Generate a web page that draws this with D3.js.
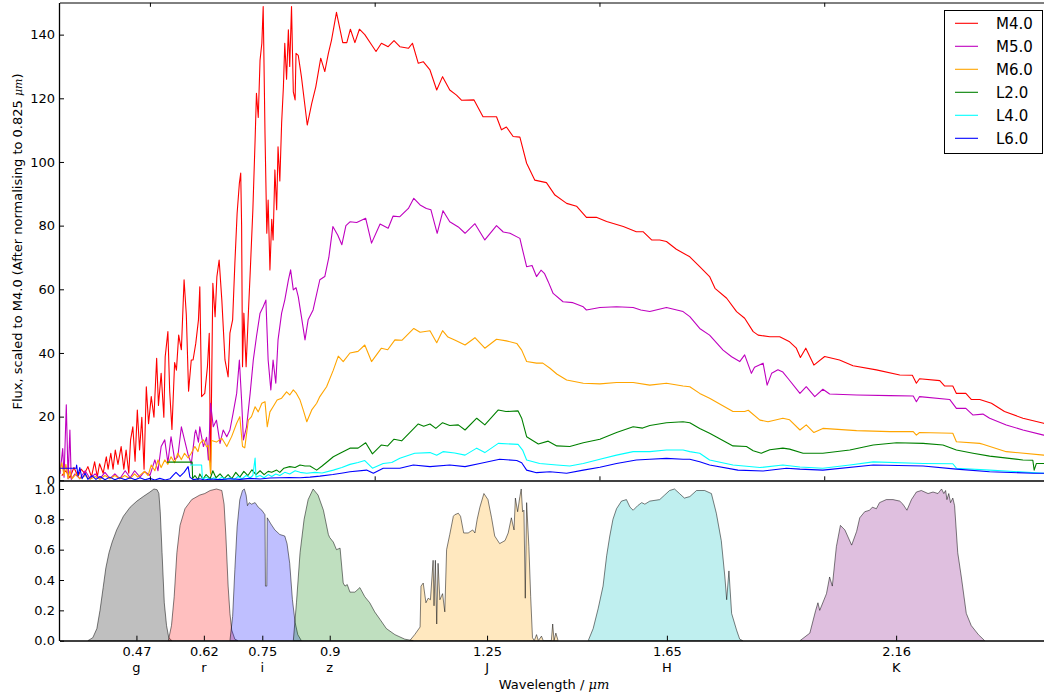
<!DOCTYPE html>
<html><head><meta charset="utf-8">
<script src="https://cdn.jsdelivr.net/npm/d3@7"></script>
<style>body{margin:0;background:#fff} text{font-family:"DejaVu Sans",sans-serif;fill:#000}</style>
</head><body><svg id="c" width="1044" height="698"></svg>
<script>
// ---------------- DATA ----------------
const seriesNames = ["M4.0","M5.0","M6.0","L2.0","L4.0","L6.0"];
const seriesColors = ["red","#bf00bf","orange","green","cyan","blue"];

const specM40 = [[0.304,1.5],[0.313,3],[0.322,0.8],[0.331,4],[0.340,1.2],[0.347,3.5],[0.355,2.2],[0.362,4.3],[0.370,1.1],[0.377,5.8],[0.383,1.1],[0.388,5.2],[0.396,2.2],[0.403,7.4],[0.407,3.5],[0.413,8.5],[0.418,3.5],[0.423,9.5],[0.429,5],[0.436,10.6],[0.442,3.5],[0.447,9.5],[0.453,2.2],[0.457,12.7],[0.462,16.8],[0.467,6],[0.472,22.1],[0.477,9.5],[0.482,19.8],[0.487,3.5],[0.492,29.4],[0.497,17.8],[0.503,26.3],[0.509,19.8],[0.515,38.3],[0.519,23.5],[0.525,33.6],[0.531,19.8],[0.534,38.8],[0.540,46.7],[0.544,28],[0.549,16],[0.555,37],[0.559,34.6],[0.564,45.6],[0.570,41],[0.576,63],[0.581,52],[0.586,28],[0.592,37.8],[0.596,37.8],[0.602,43],[0.608,50.4],[0.611,60.8],[0.615,26.3],[0.622,27.3],[0.628,35.7],[0.632,46.2],[0.635,2.2],[0.640,61.9],[0.645,51.4],[0.649,64],[0.654,69.2],[0.660,56.6],[0.667,37.8],[0.674,32.5],[0.678,46.2],[0.684,50.4],[0.689,68.2],[0.694,83.9],[0.699,93.3],[0.702,96.5],[0.704,80],[0.706,35.7],[0.709,52.5],[0.714,35.7],[0.719,52.5],[0.723,65],[0.729,84.9],[0.734,106.9],[0.737,121.6],[0.741,114],[0.745,132],[0.749,137.3],[0.752,148.8],[0.756,109],[0.760,77.6],[0.763,88],[0.767,66.1],[0.771,82],[0.774,75.5],[0.778,97.5],[0.782,85],[0.785,104.8],[0.789,94],[0.793,112.2],[0.797,123.7],[0.800,137.3],[0.804,126],[0.808,141.5],[0.811,130],[0.815,148.8],[0.819,122],[0.823,119.5],[0.825,134.1],[0.830,133.5],[0.837,126.8],[0.850,111.6],[0.860,118.4],[0.869,123.6],[0.880,132.6],[0.889,128.4],[0.897,134.1],[0.904,138.3],[0.915,147],[0.929,137.5],[0.938,137.5],[0.946,141.7],[0.956,137.5],[0.966,141.7],[0.978,140],[0.993,136.8],[1.003,134.7],[1.015,137.3],[1.030,136.2],[1.043,138.1],[1.056,136.2],[1.075,135.7],[1.084,137.3],[1.097,131],[1.108,131.5],[1.123,128.9],[1.138,122.6],[1.151,126.8],[1.167,122.6],[1.182,121],[1.193,119.4],[1.221,119.5],[1.241,114.2],[1.271,114.2],[1.282,110.1],[1.293,111],[1.308,108],[1.323,107.8],[1.338,99.6],[1.356,94.3],[1.382,93.5],[1.401,89.6],[1.427,87],[1.449,86.1],[1.471,82.6],[1.493,82.6],[1.516,81.3],[1.553,79.7],[1.582,78.1],[1.597,78.1],[1.616,75.5],[1.634,75.5],[1.649,75],[1.671,72.6],[1.701,70.2],[1.723,67.1],[1.745,64],[1.757,60.3],[1.783,57.2],[1.805,53],[1.823,50.9],[1.842,46.7],[1.853,45.6],[1.879,45.1],[1.901,45.1],[1.923,43.5],[1.938,41.5],[1.947,38.6],[1.959,41.5],[1.977,36.2],[2.001,38.9],[2.034,37.8],[2.064,36],[2.116,34.7],[2.168,33.1],[2.196,33],[2.205,30.5],[2.212,31.9],[2.257,31.3],[2.268,29.6],[2.286,29.6],[2.294,27.3],[2.315,27.3],[2.327,25.4],[2.346,25.4],[2.372,24.2],[2.401,21.6],[2.442,19.5],[2.488,17.9],[2.500,17.5]];

const specM50 = [[0.300,2],[0.306,10],[0.309,1],[0.314,23.7],[0.318,0.5],[0.322,15.8],[0.325,0.3],[0.333,2],[0.344,0.5],[0.356,3],[0.367,0.5],[0.378,2],[0.389,0.5],[0.400,2.5],[0.411,0.5],[0.422,2],[0.433,0.5],[0.445,3],[0.456,0.8],[0.466,3],[0.478,1],[0.488,2.8],[0.500,1.5],[0.511,6.4],[0.518,3],[0.525,10.6],[0.533,12.7],[0.540,5.5],[0.547,13.7],[0.555,6.5],[0.562,7.4],[0.570,16.8],[0.577,12.7],[0.585,8],[0.589,6.4],[0.592,5],[0.600,14.8],[0.602,15.8],[0.608,12],[0.611,16.8],[0.619,10.6],[0.626,13.5],[0.630,6.4],[0.635,24.2],[0.641,16.8],[0.648,18.9],[0.656,11.6],[0.663,15.8],[0.671,13.7],[0.678,15.8],[0.685,21],[0.693,27.3],[0.699,37.8],[0.704,25],[0.708,12.7],[0.715,16.8],[0.723,27.3],[0.730,37.8],[0.737,45.1],[0.745,52.5],[0.752,54.5],[0.758,56.6],[0.763,37.8],[0.769,28.4],[0.774,37.8],[0.780,30.5],[0.785,44.1],[0.793,52.5],[0.800,56.6],[0.808,62.9],[0.813,66.1],[0.819,59.8],[0.825,60.5],[0.830,57.7],[0.837,51.4],[0.845,44.1],[0.852,50.4],[0.863,53.5],[0.878,63],[0.889,64],[0.898,70],[0.907,79.7],[0.918,77],[0.927,74],[0.936,80],[0.945,81.2],[0.960,81],[0.980,82.3],[0.993,74.5],[1.012,80.5],[1.030,79.2],[1.041,83],[1.056,82.8],[1.075,85.4],[1.087,88.6],[1.101,86.5],[1.115,85.4],[1.125,85],[1.139,77.6],[1.152,84.7],[1.167,81.2],[1.186,79.6],[1.201,77.6],[1.223,80.6],[1.245,75.5],[1.271,80],[1.286,78],[1.301,77.6],[1.323,76],[1.329,72.4],[1.338,67.1],[1.350,67.5],[1.360,64],[1.370,66],[1.378,64.9],[1.386,62.4],[1.397,58.7],[1.419,56.1],[1.441,55.8],[1.464,54.5],[1.471,53.5],[1.501,54.3],[1.538,54.5],[1.575,54.3],[1.592,53.5],[1.612,53],[1.649,54.3],[1.686,53],[1.701,51.4],[1.723,47.7],[1.745,45.6],[1.775,40.9],[1.794,38.8],[1.812,37.3],[1.823,39.4],[1.838,33.6],[1.845,35.5],[1.864,36.8],[1.873,29.9],[1.883,33.6],[1.897,34.7],[1.908,34],[1.920,31.9],[1.946,27.3],[1.960,29.4],[1.979,26.3],[1.997,28.6],[2.012,27.1],[2.072,26.8],[2.146,26.6],[2.198,26.5],[2.205,24.7],[2.212,26.3],[2.279,25.4],[2.294,22.6],[2.315,22.6],[2.331,20.5],[2.353,20.8],[2.368,19.5],[2.405,17.4],[2.442,15.8],[2.488,14.2],[2.500,13.9]];

const specM60 = [[0.300,3],[0.304,5.5],[0.309,1.5],[0.313,5],[0.318,0.5],[0.322,3],[0.327,0.5],[0.336,2],[0.344,0.5],[0.356,1.5],[0.367,0.3],[0.378,1.2],[0.389,0.3],[0.400,1.5],[0.411,0.5],[0.422,1.5],[0.433,0.5],[0.444,1.5],[0.456,0.5],[0.466,2],[0.473,1],[0.488,2.8],[0.496,1.5],[0.503,4.8],[0.511,3],[0.518,6.4],[0.525,4],[0.533,6.4],[0.540,5],[0.547,7.4],[0.555,5.5],[0.562,8.5],[0.570,6.5],[0.577,8.5],[0.585,7],[0.592,8.5],[0.600,10.6],[0.607,9],[0.611,11.5],[0.619,12.7],[0.626,10.5],[0.630,11],[0.635,2],[0.637,12.5],[0.648,12],[0.660,13.2],[0.671,10.6],[0.682,13.8],[0.693,17.9],[0.700,20],[0.706,10.6],[0.711,10.2],[0.719,18.9],[0.726,20],[0.734,23.1],[0.741,21.5],[0.749,24.2],[0.756,24.7],[0.761,16.8],[0.767,21.5],[0.774,23.1],[0.783,25.2],[0.793,25.8],[0.804,27.8],[0.811,26.8],[0.819,28.4],[0.825,27.5],[0.834,25.2],[0.841,22.1],[0.849,18.4],[0.860,22.1],[0.871,24.2],[0.878,26.3],[0.893,29.4],[0.908,34.6],[0.919,39],[0.930,37.3],[0.945,40],[0.963,40.5],[0.978,42.5],[0.993,37.3],[1.015,41.5],[1.029,41],[1.045,44.1],[1.061,44],[1.087,47.7],[1.101,46.5],[1.123,47],[1.138,43.2],[1.151,47],[1.163,45],[1.178,44.1],[1.201,42.5],[1.223,44.8],[1.245,41.5],[1.271,44.3],[1.293,43.8],[1.316,43],[1.327,40.9],[1.338,37.3],[1.360,36.8],[1.374,36.8],[1.390,35.2],[1.405,33.4],[1.427,31.5],[1.464,30.5],[1.501,30.3],[1.538,30.7],[1.575,30.7],[1.612,29.9],[1.649,30.5],[1.686,29.6],[1.701,29.4],[1.723,27.3],[1.745,25.8],[1.797,21.6],[1.823,21.6],[1.831,22],[1.857,18.9],[1.875,18.4],[1.908,19.5],[1.923,19],[1.946,15.8],[1.960,17.4],[1.977,15],[1.997,16.3],[2.072,15.6],[2.146,15.3],[2.198,15.3],[2.205,14.2],[2.212,15],[2.286,14.8],[2.294,12.1],[2.346,11.6],[2.353,11.3],[2.405,9],[2.488,7.9],[2.500,7.8]];

const specL20 = [[0.538,5.7],[0.594,5.7],[0.595,0.5],[0.600,1.5],[0.607,0.2],[0.611,2],[0.618,0.3],[0.625,1.8],[0.634,0.5],[0.640,3],[0.647,0.8],[0.656,2],[0.665,0.5],[0.674,1.8],[0.682,0.5],[0.691,2.5],[0.700,1],[0.709,2.8],[0.718,1.5],[0.727,3.3],[0.736,1.8],[0.745,3],[0.754,1.8],[0.763,2.8],[0.771,2.5],[0.782,3.2],[0.789,2.5],[0.798,3.8],[0.811,4.3],[0.823,4],[0.834,4.8],[0.845,4.5],[0.856,4.5],[0.871,3.2],[0.883,4.5],[0.896,6],[0.908,7.4],[0.923,8.5],[0.945,10.1],[0.963,10.1],[0.980,11.8],[0.995,8.3],[1.015,11.1],[1.029,10.8],[1.043,12.9],[1.060,12.4],[1.078,15],[1.097,17.7],[1.109,17],[1.123,17.7],[1.136,16.3],[1.151,18.1],[1.167,17.2],[1.186,17.4],[1.201,15.8],[1.227,19.5],[1.245,17.4],[1.275,22.1],[1.292,21.6],[1.319,21.8],[1.327,19.5],[1.338,13.7],[1.364,11.4],[1.386,12.3],[1.405,10.8],[1.434,10.6],[1.464,11.8],[1.501,12.9],[1.538,15],[1.575,16.8],[1.596,16.4],[1.612,17.2],[1.649,18.1],[1.686,18.4],[1.701,18.1],[1.723,16.3],[1.745,14.8],[1.797,10.8],[1.827,10.6],[1.842,9.3],[1.860,8.5],[1.879,9.6],[1.908,10.1],[1.923,9.8],[1.953,8.5],[1.997,8.5],[2.057,9.5],[2.109,11.1],[2.161,11.8],[2.220,11.6],[2.264,11.1],[2.294,9.5],[2.331,8.5],[2.368,7.6],[2.442,6.4],[2.464,6.3],[2.467,3.2],[2.472,5.3],[2.488,5.3],[2.500,5.3]];

const specL40 = [[0.589,4.8],[0.615,4.8],[0.617,0.2],[0.625,1],[0.634,0.2],[0.642,0.8],[0.651,0.2],[0.660,1],[0.669,0.3],[0.678,0.8],[0.687,0.2],[0.696,1.2],[0.705,0.5],[0.714,1.5],[0.723,0.8],[0.729,1.5],[0.734,7],[0.736,1],[0.745,1.5],[0.754,0.8],[0.763,1.8],[0.771,1.2],[0.780,2],[0.789,1.5],[0.800,2.5],[0.811,2],[0.823,3],[0.834,2.5],[0.849,2.2],[0.867,2.5],[0.883,2.3],[0.908,3.2],[0.927,4],[0.945,5],[0.963,5.6],[0.978,6.2],[0.995,3.8],[1.019,5.3],[1.038,5.6],[1.056,6.9],[1.089,8.5],[1.123,8.7],[1.138,7.9],[1.152,9],[1.178,8.6],[1.201,7.9],[1.227,10.1],[1.245,8.7],[1.275,11.6],[1.319,11.3],[1.329,9.5],[1.338,6.4],[1.367,5.3],[1.405,4.8],[1.434,4.5],[1.464,5.3],[1.501,6.6],[1.538,7.9],[1.575,9],[1.612,9],[1.649,9.5],[1.686,9.5],[1.701,9],[1.723,8.5],[1.745,6.4],[1.797,4.8],[1.857,4],[1.908,4.8],[1.946,4.2],[1.997,3.8],[2.057,4.8],[2.109,5.8],[2.220,5.3],[2.286,5.2],[2.294,3.8],[2.368,3.2],[2.488,2.2],[2.500,2.2]];

const specL60 = [[0.300,3.8],[0.336,3.8],[0.337,4.8],[0.340,1.5],[0.344,4],[0.349,0.5],[0.356,2.2],[0.362,0.3],[0.371,1.5],[0.380,0.3],[0.389,1.2],[0.400,0.2],[0.411,1],[0.422,0.2],[0.433,0.8],[0.445,0.2],[0.456,0.8],[0.467,0.2],[0.478,0.8],[0.489,0.2],[0.500,0.6],[0.511,0.1],[0.522,0.6],[0.534,0.1],[0.545,0.5],[0.551,1.5],[0.558,2.5],[0.567,1.2],[0.576,2.5],[0.585,4.3],[0.589,1],[0.596,0.2],[0.611,0.5],[0.622,0.1],[0.634,0.4],[0.656,0.2],[0.678,0.5],[0.700,0.3],[0.723,0.6],[0.745,0.4],[0.767,0.7],[0.789,0.8],[0.811,0.9],[0.834,0.8],[0.856,1],[0.878,1.3],[0.907,1.8],[0.929,2.3],[0.945,2.7],[0.982,3.2],[0.997,2.2],[1.019,3.8],[1.056,3.8],[1.086,4.8],[1.123,4.3],[1.167,4.8],[1.201,4.3],[1.234,5.3],[1.278,6.6],[1.316,6.2],[1.327,5.5],[1.338,3.2],[1.360,2.4],[1.390,2.7],[1.427,2.2],[1.464,3.2],[1.501,4.1],[1.538,5.3],[1.582,6.4],[1.612,6.6],[1.649,6.9],[1.686,6.6],[1.701,6.6],[1.723,5.8],[1.745,4.8],[1.808,3.2],[1.864,2.9],[1.916,3.8],[1.946,3.5],[1.997,3.2],[2.109,4.8],[2.220,4.5],[2.294,3.5],[2.368,2.7],[2.465,2.2],[2.488,2.2],[2.500,2.2]];

const filterNames = ["g","r","i","z","J","H","K"];
const filterCentres = [0.47,0.62,0.75,0.9,1.25,1.65,2.16];
const filterColors = ["black","red","blue","green","orange","#00bfbf","purple"];

const filterG = [[0.362,0],[0.373,0.02],[0.382,0.08],[0.389,0.2],[0.396,0.35],[0.402,0.48],[0.409,0.58],[0.416,0.65],[0.426,0.73],[0.441,0.82],[0.456,0.88],[0.471,0.92],[0.485,0.95],[0.500,0.98],[0.509,1.0],[0.516,0.995],[0.520,0.97],[0.523,0.85],[0.527,0.58],[0.532,0.25],[0.537,0.1],[0.542,0.02],[0.549,0]];
const filterR = [[0.541,0],[0.548,0.1],[0.554,0.29],[0.560,0.58],[0.567,0.76],[0.578,0.87],[0.593,0.93],[0.611,0.96],[0.622,0.97],[0.634,0.99],[0.648,1.0],[0.660,0.99],[0.665,0.9],[0.669,0.69],[0.674,0.36],[0.678,0.18],[0.682,0.07],[0.689,0.01],[0.696,0]];
const filterI = [[0.678,0],[0.684,0.16],[0.689,0.47],[0.694,0.75],[0.700,0.93],[0.706,0.99],[0.710,1.0],[0.714,0.96],[0.717,0.89],[0.721,0.91],[0.726,0.90],[0.734,0.91],[0.741,0.88],[0.749,0.86],[0.756,0.83],[0.757,0.36],[0.760,0.36],[0.761,0.81],[0.765,0.79],[0.769,0.77],[0.778,0.73],[0.789,0.70],[0.800,0.69],[0.805,0.64],[0.811,0.51],[0.817,0.27],[0.823,0.12],[0.829,0.04],[0.837,0]];
const filterZ = [[0.819,0],[0.826,0.25],[0.834,0.58],[0.843,0.80],[0.852,0.93],[0.863,1.0],[0.874,0.96],[0.886,0.86],[0.897,0.70],[0.900,0.68],[0.908,0.65],[0.915,0.60],[0.923,0.61],[0.930,0.38],[0.934,0.36],[0.939,0.37],[0.945,0.32],[0.956,0.32],[0.967,0.35],[0.978,0.29],[0.989,0.25],[1.000,0.19],[1.012,0.14],[1.026,0.08],[1.045,0.04],[1.067,0.01],[1.086,0]];
const filterJ = [[1.078,0],[1.089,0.04],[1.101,0.09],[1.103,0.36],[1.108,0.38],[1.114,0.25],[1.119,0.28],[1.124,0.27],[1.130,0.53],[1.132,0.23],[1.135,0.53],[1.138,0.11],[1.141,0.51],[1.145,0.27],[1.151,0.31],[1.156,0.19],[1.160,0.60],[1.167,0.70],[1.175,0.82],[1.178,0.83],[1.186,0.84],[1.191,0.82],[1.198,0.71],[1.208,0.71],[1.218,0.73],[1.223,0.71],[1.228,0.80],[1.234,0.88],[1.243,0.97],[1.252,0.93],[1.260,0.81],[1.267,0.69],[1.278,0.64],[1.290,0.66],[1.297,0.71],[1.304,0.81],[1.310,0.73],[1.313,0.94],[1.318,0.85],[1.323,0.95],[1.326,1.0],[1.329,0.85],[1.332,0.86],[1.335,0.28],[1.338,0.91],[1.343,0.62],[1.347,0.29],[1.351,0.02],[1.355,0],[1.360,0.04],[1.364,0],[1.371,0.03],[1.375,0],[1.393,0],[1.396,0.11],[1.399,0],[1.403,0.05],[1.408,0]];
const filterH = [[1.475,0],[1.486,0.08],[1.497,0.21],[1.508,0.36],[1.516,0.56],[1.523,0.69],[1.530,0.80],[1.538,0.87],[1.549,0.92],[1.560,0.93],[1.568,0.88],[1.575,0.86],[1.585,0.89],[1.594,0.91],[1.601,0.90],[1.612,0.92],[1.634,0.93],[1.645,0.96],[1.656,0.99],[1.667,1.0],[1.678,0.97],[1.689,0.94],[1.701,0.95],[1.716,0.99],[1.734,0.99],[1.749,0.97],[1.760,0.84],[1.771,0.66],[1.779,0.42],[1.783,0.27],[1.788,0.46],[1.794,0.18],[1.805,0.07],[1.812,0.01],[1.819,0]];
const filterK = [[1.946,0],[1.968,0.05],[1.981,0.2],[1.986,0.25],[1.990,0.2],[2.005,0.31],[2.012,0.42],[2.018,0.36],[2.027,0.62],[2.036,0.76],[2.046,0.73],[2.061,0.63],[2.072,0.72],[2.079,0.81],[2.090,0.85],[2.101,0.86],[2.107,0.88],[2.116,0.87],[2.123,0.91],[2.138,0.93],[2.153,0.93],[2.168,0.92],[2.175,0.90],[2.184,0.86],[2.194,0.93],[2.205,0.98],[2.216,0.99],[2.231,0.97],[2.242,0.98],[2.253,0.97],[2.261,1.0],[2.266,0.97],[2.270,0.99],[2.273,0.93],[2.277,0.97],[2.281,0.91],[2.286,0.94],[2.290,0.89],[2.297,0.58],[2.305,0.42],[2.316,0.18],[2.327,0.1],[2.343,0.04],[2.357,0]];

const yTicksTop = [0,20,40,60,80,100,120,140];
const yTicksBottom = [0,0.2,0.4,0.6,0.8,1.0];
const xTicksTop = [0.5,1.0,1.5,2.0,2.5];

// ---------------- DRAW ----------------
const spectra = [specM40,specM50,specM60,specL20,specL40,specL60];
const filters = [filterG,filterR,filterI,filterZ,filterJ,filterH,filterK];

const svg = d3.select("#c");
const L = 60, R = 1049, topT = 2.8, topB = 480.3, botT = 481.4, botB = 640.7;
const x = d3.scaleLinear().domain([0.3,2.5]).range([L,R]);
const yTop = d3.scaleLinear().domain([0,150]).range([topB,topT]);
const yBot = d3.scaleLinear().domain([0,1.05]).range([botB,botT]);

const defs = svg.append("defs");
defs.append("clipPath").attr("id","clipTop").append("rect")
  .attr("x",L).attr("y",topT).attr("width",R-L).attr("height",topB-topT);
defs.append("clipPath").attr("id","clipBot").append("rect")
  .attr("x",L).attr("y",botT).attr("width",R-L).attr("height",botB-botT);

// filters
const area = d3.area().x(d=>x(d[0])).y0(yBot(0)).y1(d=>yBot(d[1]));
const gBot = svg.append("g").attr("clip-path","url(#clipBot)");
filters.forEach((f,i)=>{
  gBot.append("path").attr("d",area(f))
    .attr("fill",filterColors[i]).attr("fill-opacity",0.25)
    .attr("stroke","black").attr("stroke-opacity",0.5).attr("stroke-width",1);
});

// spectra
const line = d3.line().x(d=>x(d[0])).y(d=>yTop(d[1]));
const gTop = svg.append("g").attr("clip-path","url(#clipTop)");
spectra.forEach((s,i)=>{
  gTop.append("path").attr("d",line(s)).attr("fill","none")
    .attr("stroke",seriesColors[i]).attr("stroke-width",1.1).attr("stroke-linejoin","round");
});

// axes
function styleAxis(g){ g.select(".domain").remove(); g.selectAll("text").style("font-size","13px").attr("fill","#000"); g.selectAll("line").attr("stroke","#000"); }

svg.append("g").attr("transform",`translate(${L},0)`)
  .call(d3.axisLeft(yTop).tickValues(yTicksTop).tickSizeInner(-4).tickSizeOuter(0).tickPadding(5).tickFormat(d3.format("d")))
  .call(styleAxis);
svg.append("g").attr("transform",`translate(${L},0)`)
  .call(d3.axisLeft(yBot).tickValues(yTicksBottom).tickSizeInner(-4).tickSizeOuter(0).tickPadding(5).tickFormat(d3.format(".1f")))
  .call(styleAxis);

// top-panel x ticks (no labels), top and bottom, inward
svg.append("g").attr("transform",`translate(0,${topT})`)
  .call(d3.axisTop(x).tickValues(xTicksTop).tickSizeInner(-4).tickSizeOuter(0).tickFormat(""))
  .call(styleAxis);
svg.append("g").attr("transform",`translate(0,${topB})`)
  .call(d3.axisBottom(x).tickValues(xTicksTop).tickSizeInner(-4).tickSizeOuter(0).tickFormat(""))
  .call(styleAxis);

// bottom-panel x ticks at filter centres
svg.append("g").attr("transform",`translate(0,${botB})`)
  .call(d3.axisBottom(x).tickValues(filterCentres).tickSizeInner(-5).tickSizeOuter(0).tickPadding(6).tickFormat(d=>String(d)))
  .call(styleAxis);
svg.append("g").selectAll("text").data(filterNames).join("text")
  .attr("x",(d,i)=>x(filterCentres[i])).attr("y",672)
  .attr("text-anchor","middle").style("font-size","13px").text(d=>d);

// spines
svg.append("line").attr("x1",L).attr("x2",R).attr("y1",3).attr("y2",3).attr("stroke","#000").attr("stroke-width",1);
svg.append("line").attr("x1",L).attr("x2",R).attr("y1",481).attr("y2",481).attr("stroke","#000").attr("stroke-width",1.5);
svg.append("line").attr("x1",L).attr("x2",R).attr("y1",641).attr("y2",641).attr("stroke","#000").attr("stroke-width",1.5);
svg.append("line").attr("x1",59.5).attr("x2",59.5).attr("y1",3).attr("y2",641).attr("stroke","#000").attr("stroke-width",1.3);

// axis labels
const xl = svg.append("text").attr("x",554).attr("y",689).attr("text-anchor","middle").style("font-size","13px");
xl.append("tspan").text("Wavelength / ");
xl.append("tspan").style("font-style","italic").style("font-family","DejaVu Serif").text("μm");

const yl = svg.append("text").attr("transform","translate(21.5,241.5) rotate(-90)").attr("text-anchor","middle").style("font-size","13px");
yl.append("tspan").text("Flux, scaled to M4.0 (After normalising to 0.825 ");
yl.append("tspan").style("font-style","italic").style("font-family","DejaVu Serif").style("font-size","11px").text("μm");
yl.append("tspan").text(")");

// legend
const lg = svg.append("g");
lg.append("rect").attr("x",944.5).attr("y",10.5).attr("width",98).attr("height",143)
  .attr("fill","#fff").attr("stroke","#000").attr("stroke-width",1);
seriesNames.forEach((n,i)=>{
  const yy = 23.3 + i*23;
  lg.append("line").attr("x1",955).attr("x2",978).attr("y1",yy).attr("y2",yy).attr("stroke",seriesColors[i]).attr("stroke-width",1.1);
  lg.append("text").attr("x",996).attr("y",yy).attr("dy","0.36em").style("font-size","15px").text(n);
});
</script>
</body></html>
